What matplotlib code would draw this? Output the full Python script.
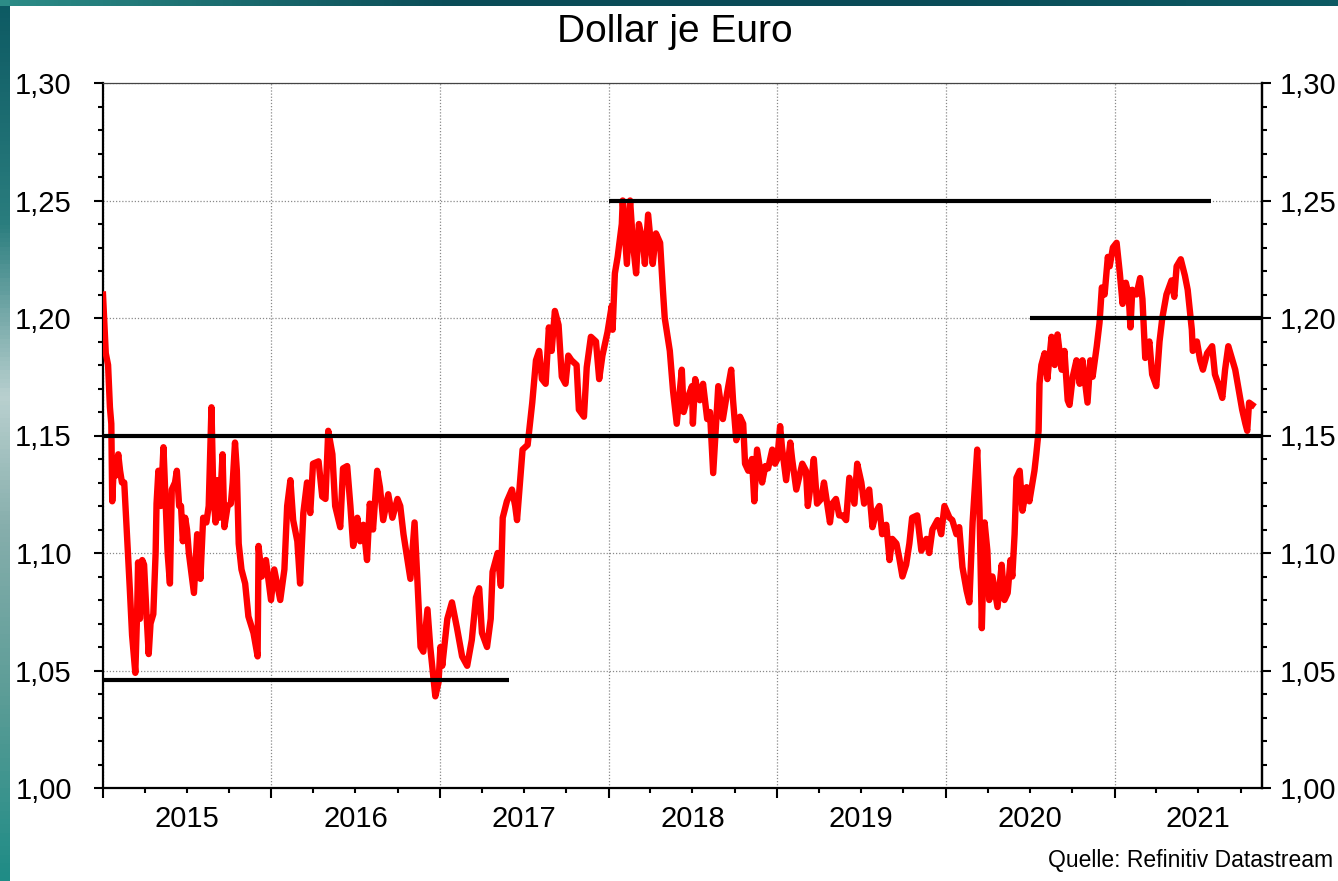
import matplotlib
matplotlib.use('Agg')
import matplotlib.pyplot as plt
import matplotlib.dates as mdates
from matplotlib.ticker import MultipleLocator, FuncFormatter, NullFormatter
from matplotlib.colors import LinearSegmentedColormap
import numpy as np
import pandas as pd

plt.rcParams['font.family'] = ['Liberation Sans', 'DejaVu Sans']

# EUR/USD
dates = [
    # 2015
    '2015-01-01', '2015-01-07', '2015-01-12', '2015-01-16', '2015-01-19', '2015-01-21', '2015-01-25', '2015-01-29',
    '2015-02-03', '2015-02-07', '2015-02-11', '2015-02-16', '2015-02-20', '2015-02-24', '2015-02-28', '2015-03-05',
    '2015-03-12', '2015-03-16', '2015-03-18', '2015-03-22', '2015-03-27', '2015-03-31', '2015-04-05', '2015-04-10',
    '2015-04-14', '2015-04-20', '2015-04-25', '2015-04-27', '2015-05-01', '2015-05-06', '2015-05-12', '2015-05-17',
    '2015-05-21', '2015-05-26', '2015-05-30', '2015-06-06', '2015-06-10', '2015-06-15', '2015-06-19', '2015-06-23',
    '2015-06-28', '2015-07-02', '2015-07-06', '2015-07-17', '2015-07-24', '2015-07-31', '2015-08-06', '2015-08-13',
    '2015-08-18', '2015-08-24', '2015-08-28', '2015-09-02', '2015-09-06', '2015-09-10', '2015-09-17', '2015-09-21',
    '2015-09-28', '2015-10-05', '2015-10-09', '2015-10-14', '2015-10-18', '2015-10-22', '2015-10-28', '2015-11-05',
    '2015-11-12', '2015-11-23', '2015-12-02', '2015-12-04', '2015-12-11', '2015-12-20', '2015-12-31',
    # 2016
    '2016-01-07', '2016-01-20', '2016-01-29', '2016-02-04', '2016-02-11', '2016-02-17', '2016-02-26', '2016-03-03',
    '2016-03-10', '2016-03-18', '2016-03-25', '2016-03-31', '2016-04-12', '2016-04-20', '2016-04-27', '2016-05-03',
    '2016-05-12', '2016-05-18', '2016-05-29', '2016-06-04', '2016-06-13', '2016-06-20', '2016-06-26', '2016-07-05',
    '2016-07-11', '2016-07-18', '2016-07-26', '2016-08-01', '2016-08-08', '2016-08-17', '2016-08-23', '2016-08-30',
    '2016-09-10', '2016-09-19', '2016-09-30', '2016-10-06', '2016-10-13', '2016-10-21', '2016-10-28', '2016-11-06',
    '2016-11-12', '2016-11-19', '2016-11-25', '2016-12-04', '2016-12-10', '2016-12-21', '2016-12-28',
    # 2017
    '2017-01-01', '2017-01-05', '2017-01-16', '2017-01-26', '2017-02-06', '2017-02-17', '2017-02-28', '2017-03-10',
    '2017-03-19', '2017-03-26', '2017-04-01', '2017-04-12', '2017-04-20', '2017-04-24', '2017-05-05', '2017-05-12',
    '2017-05-16', '2017-05-25', '2017-06-05', '2017-06-12', '2017-06-16', '2017-06-24', '2017-06-28', '2017-07-09',
    '2017-07-19', '2017-07-27', '2017-08-03', '2017-08-09', '2017-08-17', '2017-08-24', '2017-08-30', '2017-09-06',
    '2017-09-14', '2017-09-21', '2017-09-29', '2017-10-05', '2017-10-12', '2017-10-23', '2017-10-28', '2017-11-08',
    '2017-11-14', '2017-11-23', '2017-12-04', '2017-12-11', '2017-12-18', '2017-12-29',
    # 2018
    '2018-01-07', '2018-01-09', '2018-01-14', '2018-01-20', '2018-01-29', '2018-01-31', '2018-02-09', '2018-02-16',
    '2018-02-22', '2018-03-01', '2018-03-07', '2018-03-16', '2018-03-20', '2018-03-27', '2018-04-04', '2018-04-06',
    '2018-04-13', '2018-04-22', '2018-04-28', '2018-05-02', '2018-05-09', '2018-05-13', '2018-05-20', '2018-05-28',
    '2018-06-08', '2018-06-12', '2018-06-19', '2018-06-30', '2018-07-02', '2018-07-07', '2018-07-17', '2018-07-24',
    '2018-08-02', '2018-08-08', '2018-08-15', '2018-08-26', '2018-09-05', '2018-09-14', '2018-09-23', '2018-09-27',
    '2018-10-04', '2018-10-12', '2018-10-19', '2018-10-23', '2018-10-30', '2018-11-07', '2018-11-12', '2018-11-18',
    '2018-11-29', '2018-12-06', '2018-12-12', '2018-12-21', '2018-12-27',
    # 2019
    '2019-01-01', '2019-01-07', '2019-01-11', '2019-01-20', '2019-01-29', '2019-02-02', '2019-02-11', '2019-02-17',
    '2019-02-24', '2019-03-04', '2019-03-08', '2019-03-15', '2019-03-21', '2019-03-28', '2019-04-06', '2019-04-12',
    '2019-04-19', '2019-04-25', '2019-04-30', '2019-05-08', '2019-05-15', '2019-05-22', '2019-05-30', '2019-06-06',
    '2019-06-17', '2019-06-23', '2019-07-02', '2019-07-08', '2019-07-19', '2019-07-26', '2019-08-04', '2019-08-10',
    '2019-08-16', '2019-08-25', '2019-09-01', '2019-09-07', '2019-09-16', '2019-09-22', '2019-09-29', '2019-10-07',
    '2019-10-14', '2019-10-20', '2019-10-31', '2019-11-09', '2019-11-20', '2019-11-26', '2019-12-03', '2019-12-14',
    '2019-12-22', '2019-12-29',
    # 2020
    '2020-01-09', '2020-01-15', '2020-01-24', '2020-01-30', '2020-02-06', '2020-02-15', '2020-02-21', '2020-02-28',
    '2020-03-09', '2020-03-14', '2020-03-19', '2020-03-25', '2020-03-31', '2020-04-04', '2020-04-11', '2020-04-22',
    '2020-05-01', '2020-05-07', '2020-05-14', '2020-05-20', '2020-05-24', '2020-05-29', '2020-06-02', '2020-06-09',
    '2020-06-15', '2020-06-24', '2020-06-30', '2020-07-11', '2020-07-15', '2020-07-20', '2020-07-22', '2020-07-26',
    '2020-08-02', '2020-08-08', '2020-08-17', '2020-08-24', '2020-08-30', '2020-09-08', '2020-09-14', '2020-09-21',
    '2020-09-25', '2020-10-02', '2020-10-10', '2020-10-17', '2020-10-23', '2020-11-03', '2020-11-09', '2020-11-14',
    '2020-11-23', '2020-11-29', '2020-12-04', '2020-12-10', '2020-12-17', '2020-12-21', '2020-12-28',
    # 2021
    '2021-01-05', '2021-01-12', '2021-01-18', '2021-01-25', '2021-01-31', '2021-02-04', '2021-02-08', '2021-02-17',
    '2021-02-25', '2021-03-02', '2021-03-08', '2021-03-17', '2021-03-23', '2021-04-01', '2021-04-08', '2021-04-14',
    '2021-04-23', '2021-05-04', '2021-05-10', '2021-05-15', '2021-05-24', '2021-06-02', '2021-06-08', '2021-06-17',
    '2021-06-19', '2021-06-28', '2021-07-05', '2021-07-11', '2021-07-20', '2021-07-31', '2021-08-06', '2021-08-13',
    '2021-08-22', '2021-08-28', '2021-09-04', '2021-09-13', '2021-09-19', '2021-09-26', '2021-10-04', '2021-10-11',
    '2021-10-15', '2021-10-19', '2021-10-26',
]

usd_per_eur = [
    # 2015
    1.210, 1.185, 1.180, 1.162, 1.155, 1.122, 1.140, 1.133,
    1.142, 1.135, 1.130, 1.130, 1.115, 1.100, 1.085, 1.065,
    1.049, 1.075, 1.096, 1.072, 1.097, 1.095, 1.075, 1.057,
    1.070, 1.074, 1.100, 1.121, 1.135, 1.120, 1.145, 1.120,
    1.100, 1.087, 1.127, 1.130, 1.135, 1.120, 1.120, 1.105,
    1.115, 1.110, 1.100, 1.083, 1.108, 1.089, 1.115, 1.113,
    1.120, 1.162, 1.125, 1.113, 1.131, 1.115, 1.142, 1.111,
    1.120, 1.121, 1.130, 1.147, 1.135, 1.104, 1.093, 1.087,
    1.073, 1.066, 1.056, 1.103, 1.090, 1.097, 1.080,
    # 2016
    1.093, 1.080, 1.093, 1.120, 1.131, 1.114, 1.105, 1.087,
    1.117, 1.130, 1.117, 1.138, 1.139, 1.124, 1.123, 1.152,
    1.142, 1.120, 1.111, 1.136, 1.137, 1.120, 1.103, 1.115,
    1.105, 1.112, 1.097, 1.121, 1.110, 1.135, 1.128, 1.114,
    1.125, 1.115, 1.123, 1.120, 1.108, 1.098, 1.089, 1.113,
    1.089, 1.060, 1.058, 1.076, 1.060, 1.039, 1.045,
    # 2017
    1.060, 1.052, 1.072, 1.079, 1.068, 1.056, 1.052, 1.063,
    1.081, 1.085, 1.066, 1.060, 1.072, 1.092, 1.100, 1.086,
    1.115, 1.122, 1.127, 1.120, 1.114, 1.134, 1.144, 1.146,
    1.164, 1.182, 1.186, 1.174, 1.172, 1.196, 1.186, 1.203,
    1.197, 1.175, 1.172, 1.184, 1.182, 1.180, 1.161, 1.158,
    1.179, 1.192, 1.190, 1.174, 1.184, 1.194,
    # 2018
    1.205, 1.195, 1.219, 1.226, 1.240, 1.250, 1.223, 1.250,
    1.232, 1.219, 1.240, 1.232, 1.223, 1.244, 1.227, 1.223,
    1.236, 1.232, 1.212, 1.200, 1.191, 1.186, 1.169, 1.155,
    1.178, 1.160, 1.165, 1.171, 1.155, 1.174, 1.165, 1.172,
    1.157, 1.160, 1.134, 1.171, 1.157, 1.168, 1.178, 1.165,
    1.148, 1.158, 1.155, 1.138, 1.135, 1.140, 1.122, 1.144,
    1.130, 1.137, 1.136, 1.144, 1.138,
    # 2019
    1.140, 1.154, 1.145, 1.131, 1.147, 1.140, 1.127, 1.132,
    1.138, 1.135, 1.120, 1.130, 1.140, 1.121, 1.123, 1.130,
    1.121, 1.113, 1.121, 1.123, 1.116, 1.116, 1.114, 1.132,
    1.121, 1.138, 1.130, 1.121, 1.127, 1.111, 1.118, 1.120,
    1.108, 1.112, 1.097, 1.106, 1.104, 1.098, 1.090, 1.095,
    1.104, 1.115, 1.116, 1.101, 1.106, 1.100, 1.110, 1.114,
    1.108, 1.120,
    # 2020
    1.115, 1.114, 1.108, 1.111, 1.094, 1.084, 1.079, 1.113,
    1.144, 1.118, 1.068, 1.113, 1.101, 1.080, 1.090, 1.077,
    1.095, 1.080, 1.083, 1.097, 1.090, 1.108, 1.132, 1.135,
    1.118, 1.128, 1.122, 1.135, 1.142, 1.152, 1.172, 1.180,
    1.185, 1.174, 1.192, 1.180, 1.193, 1.178, 1.186, 1.165,
    1.163, 1.175, 1.182, 1.172, 1.182, 1.164, 1.182, 1.175,
    1.188, 1.198, 1.213, 1.210, 1.226, 1.222, 1.230,
    # 2021
    1.232, 1.219, 1.206, 1.215, 1.210, 1.196, 1.212, 1.210,
    1.217, 1.208, 1.183, 1.190, 1.176, 1.171, 1.190, 1.200,
    1.210, 1.216, 1.209, 1.222, 1.225, 1.218, 1.212, 1.195,
    1.186, 1.190, 1.182, 1.178, 1.185, 1.188, 1.176, 1.172,
    1.166, 1.178, 1.188, 1.182, 1.178, 1.170, 1.161, 1.155,
    1.152, 1.164, 1.163,
]

# black marker lines: level, from, to
level_values = [1.046, 1.15, 1.25, 1.20]
level_starts = ['2015-01-04', '2015-01-04', '2018-01-01', '2020-07-01']
level_ends = ['2017-05-30', '2021-11-16', '2021-07-29', '2021-11-16']

title = 'Dollar je Euro'
source = 'Quelle: Refinitiv Datastream'

W, H = 1338, 881
fig = plt.figure(figsize=(W / 100, H / 100), dpi=100)
fig.patch.set_facecolor('white')

# teal frame bits from the slide background
left_cmap = LinearSegmentedColormap.from_list('edge', [
    (0.0, '#0d5a63'), (0.25, '#2a7d7e'), (0.45, '#b9d0cf'), (0.6, '#86aeac'),
    (0.8, '#5a9c96'), (1.0, '#1f8c86')])
edge = fig.add_axes([0, 0, 10 / W, 1])
edge.imshow(np.linspace(0, 1, 200).reshape(-1, 1), aspect='auto', cmap=left_cmap)
edge.axis('off')
top_cmap = LinearSegmentedColormap.from_list('top', ['#2c8c87', '#0b4d58', '#0a4b57', '#0d5a63'])
top = fig.add_axes([0, 1 - 6 / H, 1, 6 / H])
top.imshow(np.linspace(0, 1, 300).reshape(1, -1), aspect='auto', cmap=top_cmap)
top.axis('off')

ax = fig.add_axes([103 / W, 1 - 788 / H, (1262 - 103) / W, (788 - 83) / H])

x = pd.to_datetime(dates)
ax.plot(x, usd_per_eur, color='#ff0000', lw=4.6, solid_joinstyle='round', zorder=3)
for v, s, e in zip(level_values, level_starts, level_ends):
    ax.hlines(v, pd.Timestamp(s), pd.Timestamp(e), color='black', lw=3, zorder=4)

ax.set_ylim(1.0, 1.3)
ax.set_xlim(pd.Timestamp('2015-01-01'), pd.Timestamp('2021-11-16'))

comma = FuncFormatter(lambda v, p: f'{v:.2f}'.replace('.', ','))
ax.yaxis.set_major_locator(MultipleLocator(0.05))
ax.yaxis.set_minor_locator(MultipleLocator(0.01))
ax.yaxis.set_major_formatter(comma)

ax.xaxis.set_major_locator(mdates.YearLocator())
ax.xaxis.set_major_formatter(NullFormatter())
ax.xaxis.set_minor_locator(mdates.MonthLocator(bymonth=[1, 4, 7, 10]))
ax.xaxis.set_minor_formatter(FuncFormatter(
    lambda v, p: str(mdates.num2date(v).year) if mdates.num2date(v).month == 7 else ''))

ax.grid(which='major', linestyle=(0, (1, 1.5)), color='#8a8a8a', lw=0.9, zorder=1)

ax.tick_params(axis='y', which='both', direction='out', left=True, right=False,
               labelleft=True, labelright=False, width=1.5, colors='black')
ax.tick_params(axis='y', which='major', length=6.5, labelsize=21, pad=16)
ax.tick_params(axis='y', which='minor', length=3.5)
ax.tick_params(axis='x', which='major', direction='out', length=7, width=1.5)
ax.tick_params(axis='x', which='minor', direction='out', length=3.3, width=1.5,
               labelsize=21, pad=9)

# right-hand scale
ax2 = ax.twinx()
ax2.set_ylim(ax.get_ylim())
ax2.yaxis.set_major_locator(MultipleLocator(0.05))
ax2.yaxis.set_minor_locator(MultipleLocator(0.01))
ax2.yaxis.set_major_formatter(comma)
ax2.tick_params(axis='y', which='both', direction='out', width=1.5, colors='black')
ax2.tick_params(axis='y', which='major', length=6.5, labelsize=21, pad=6.5)
ax2.tick_params(axis='y', which='minor', length=3.5)
for side in ['left', 'top', 'bottom']:
    ax2.spines[side].set_visible(False)

for side in ['left', 'right', 'bottom']:
    ax.spines[side].set_linewidth(1.6)
    ax.spines[side].set_color('black')
ax2.spines['right'].set_linewidth(1.6)
ax2.spines['right'].set_color('black')
ax.spines['top'].set_linewidth(0.9)
ax.spines['top'].set_color('#444444')

fig.text(675 / W, 1 - 32 / H, title, ha='center', va='center', fontsize=28)
fig.text(1333 / W, 1 - 861 / H, source, ha='right', va='center', fontsize=16.5)

fig.savefig('out.png', dpi=100, facecolor='white')
